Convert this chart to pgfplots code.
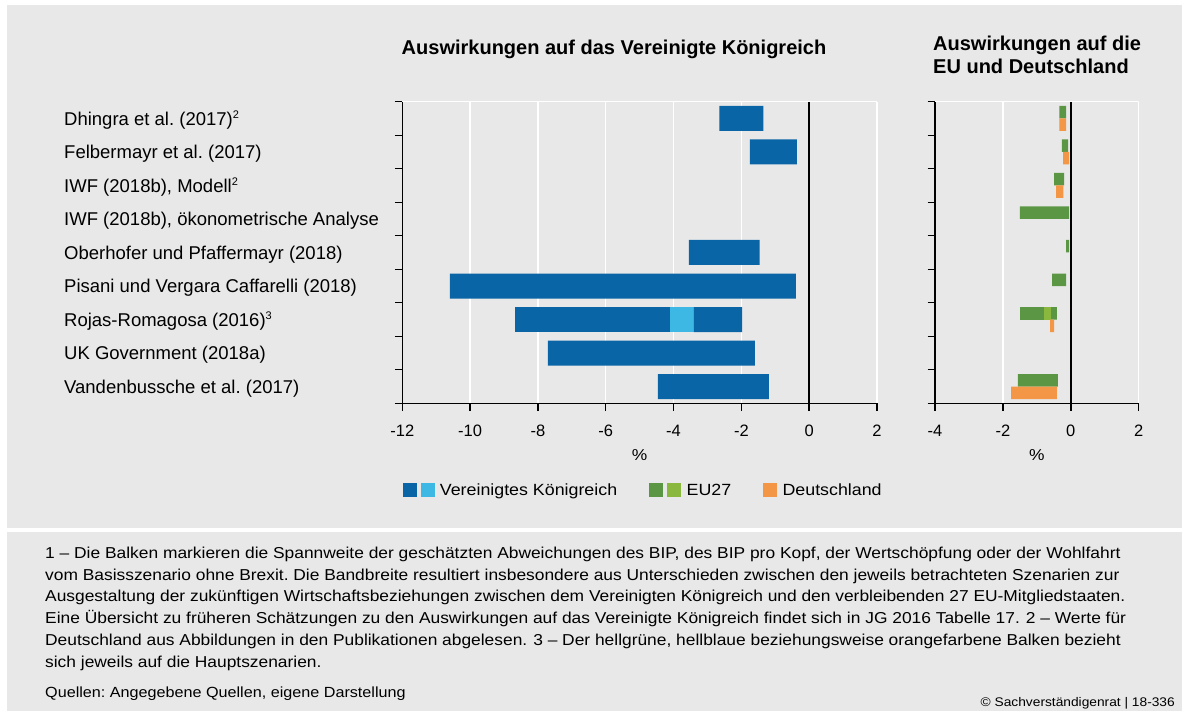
\documentclass[border=0pt]{standalone}
\usepackage{fontspec}
\setmainfont{Liberation Sans}
\newfontfamily\widefam[FakeStretch=1.1]{Liberation Sans}
\usepackage{pgfplots}
\usepackage{pgfplotstable}
\pgfplotsset{compat=1.18}

\definecolor{bgc}{RGB}{232,232,232}
\definecolor{ukdark}{RGB}{10,101,166}
\definecolor{uklight}{RGB}{61,183,228}
\definecolor{eudark}{RGB}{91,150,69}
\definecolor{eulight}{RGB}{138,184,62}
\definecolor{deor}{RGB}{243,150,69}

\newcommand\catfont{\fontsize{18.5}{21}\selectfont}
\newcommand\tickfont{\fontsize{16.5}{19}\selectfont}
\newcommand\footfont{\widefam\fontsize{15.8}{18}\selectfont}
\newcommand\titlefont{\bfseries\fontsize{20}{24}\selectfont}
\newcommand\supx[1]{\raisebox{6.6pt}{\fontsize{11}{11}\selectfont #1}}

% UK: range lo..hi, main scenario mlo..mhi (= lo where there is none)
\pgfplotstableread{
y lo hi mlo mhi
8 -2.65 -1.35 -2.65 -2.65
7 -1.75 -0.36 -1.75 -1.75
6 0 0 0 0
5 0 0 0 0
4 -3.55 -1.46 -3.55 -3.55
3 -10.60 -0.39 -10.60 -10.60
2 -8.68 -1.98 -4.11 -3.40
1 -7.71 -1.60 -7.71 -7.71
0 -4.46 -1.19 -4.46 -4.46
}\ukdata

\pgfplotstableread{
y lo hi mlo mhi
8 -0.34 -0.14 -0.34 -0.34
7 -0.26 -0.08 -0.26 -0.26
6 -0.49 -0.20 -0.49 -0.49
5 -1.50 -0.05 -1.50 -1.50
4 -0.14 -0.05 -0.14 -0.14
3 -0.55 -0.14 -0.55 -0.55
2 -1.50 -0.41 -0.79 -0.58
1 0 0 0 0
0 -1.56 -0.38 -1.56 -1.56
}\eudata

\pgfplotstableread{
y lo hi
8 -0.34 -0.14
7 -0.23 -0.05
6 -0.43 -0.22
5 0 0
4 0 0
3 0 0
2 -0.61 -0.49
1 0 0
0 -1.76 -0.41
}\dedata

\pgfplotsset{
  panel/.style={
    scale only axis, height=301.6pt,
    ymin=-0.5, ymax=8.5, enlargelimits=false,
    xbar stacked,
    axis x line*=bottom, axis y line*=left,
    axis line style={black, line width=1.4pt},
    tick align=outside, major tick length=7.5pt,
    tick style={black, line width=1.4pt},
    ytick={-0.5,0.5,...,8.5}, yticklabels={},
    xmajorgrids, grid style={white, line width=1.5pt},
    tick label style={font=\tickfont},
    /pgf/number format/assume math mode=true,
    xticklabel style={anchor=base, yshift=-26pt},
    xlabel={\%},
    xlabel style={at={(axis description cs:0.5,0)}, anchor=base, yshift=-57pt, font=\footfont},
  },
  seg/.style={draw=none, fill=#1},
}

\begin{document}
\frenchspacing
\begin{tikzpicture}[x=1pt,y=1pt]
\fill[white] (0,0) rectangle (1182,711);
\fill[bgc] (7,706) rectangle (1182,183);
\fill[bgc] (7,179) rectangle (1182,0);

% titles
\node[anchor=base, inner sep=0, font=\titlefont] at (614,656) {Auswirkungen auf das Vereinigte Königreich};
\node[anchor=base west, inner sep=0, font=\titlefont] at (933,660) {Auswirkungen auf die};
\node[anchor=base west, inner sep=0, font=\titlefont] at (933,637.7) {EU und Deutschland};

% left panel
\begin{axis}[panel, at={(402.3pt,307.7pt)}, anchor=south west, width=474.7pt,
  xmin=-12, xmax=2, xtick={-12,-10,...,2},
  extra y ticks={0,...,8},
  extra y tick labels={Vandenbussche et al. (2017), UK Government (2018a), Rojas-Romagosa (2016)\supx{3},
    Pisani und Vergara Caffarelli (2018), Oberhofer und Pfaffermayr (2018),
    {IWF (2018b), ökonometrische Analyse}, {IWF (2018b), Modell\supx{2}},
    Felbermayr et al. (2017), Dhingra et al. (2017)\supx{2}},
  extra y tick style={major tick length=0pt, tick style={draw=none},
    yticklabel style={anchor=base west, xshift=-338.3pt, yshift=-6.6pt, inner sep=0pt, font=\catfont}},
  legend style={at={(axis description cs:0,0)}, anchor=west, yshift=-86.7pt,
    draw=none, fill=none, inner sep=0pt, font=\widefam\fontsize{16.2}{19}\selectfont,
    legend columns=-1, /tikz/every even column/.append style={column sep=30pt}},
  legend cell align=left,
]
\addlegendimage{legend image code/.code={\fill[ukdark] (0pt,-6.5pt) rectangle (13pt,6.5pt); \fill[uklight] (18pt,-6.5pt) rectangle (31pt,6.5pt);}}
\addlegendimage{legend image code/.code={\fill[eudark] (0pt,-6.5pt) rectangle (13pt,6.5pt); \fill[eulight] (18pt,-6.5pt) rectangle (31pt,6.5pt);}}
\addlegendimage{legend image code/.code={\fill[deor] (0pt,-6.5pt) rectangle (13pt,6.5pt);}}
\draw[white, line width=1.5pt] (axis cs:-12,8.5) -- (axis cs:2,8.5);
\addplot[draw=none, fill=none, bar width=25pt, bar shift=0pt] table[x=hi, y=y] {\ukdata};
\addplot[seg=ukdark, bar width=25pt, bar shift=0pt] table[x expr=\thisrow{mhi}-\thisrow{hi}, y=y] {\ukdata};
\addplot[seg=uklight, bar width=25pt, bar shift=0pt] table[x expr=\thisrow{mlo}-\thisrow{mhi}, y=y] {\ukdata};
\addplot[seg=ukdark, bar width=25pt, bar shift=0pt] table[x expr=\thisrow{lo}-\thisrow{mlo}, y=y] {\ukdata};
\draw[black, line width=1.6pt] (axis cs:0,-0.5) -- (axis cs:0,8.5);
\legend{\hspace{4pt}\strut Vereinigtes Königreich, \hspace{4pt}\strut EU27\hspace{14pt}, \hspace{4pt}\strut Deutschland}
\end{axis}

% right panel: EU27
\begin{axis}[panel, at={(935pt,307.7pt)}, anchor=south west, width=203.7pt,
  xmin=-4, xmax=2, xtick={-4,-2,0,2}]
\draw[white, line width=1.5pt] (axis cs:-4,8.5) -- (axis cs:2,8.5);
\addplot[draw=none, fill=none, bar width=12.5pt, bar shift=6.25pt] table[x=hi, y=y] {\eudata};
\addplot[seg=eudark, bar width=12.5pt, bar shift=6.25pt] table[x expr=\thisrow{mhi}-\thisrow{hi}, y=y] {\eudata};
\addplot[seg=eulight, bar width=12.5pt, bar shift=6.25pt] table[x expr=\thisrow{mlo}-\thisrow{mhi}, y=y] {\eudata};
\addplot[seg=eudark, bar width=12.5pt, bar shift=6.25pt] table[x expr=\thisrow{lo}-\thisrow{mlo}, y=y] {\eudata};
\end{axis}

% right panel: Deutschland
\begin{axis}[scale only axis, at={(935pt,307.7pt)}, anchor=south west, width=203.7pt, height=301.6pt,
  xmin=-4, xmax=2, ymin=-0.5, ymax=8.5, enlargelimits=false, xbar stacked, hide axis]
\addplot[draw=none, fill=none, bar width=12.5pt, bar shift=-6.25pt] table[x=hi, y=y] {\dedata};
\addplot[seg=deor, bar width=12.5pt, bar shift=-6.25pt] table[x expr=\thisrow{lo}-\thisrow{hi}, y=y] {\dedata};
\draw[black, line width=1.6pt] (axis cs:0,-0.5) -- (axis cs:0,8.5);
\end{axis}

% notes
\begin{scope}[every node/.style={anchor=base west, inner sep=0, font=\footfont}]
\node at (45,152.7) {1 – Die Balken markieren die Spannweite der geschätzten Abweichungen des BIP, des BIP pro Kopf, der Wertschöpfung oder der Wohlfahrt};
\node at (45,130.9) {vom Basisszenario ohne Brexit. Die Bandbreite resultiert insbesondere aus Unterschieden zwischen den jeweils betrachteten Szenarien zur};
\node at (45,109.1) {Ausgestaltung der zukünftigen Wirtschaftsbeziehungen zwischen dem Vereinigten Königreich und den verbleibenden 27 EU-Mitgliedstaaten.};
\node at (45,87.3) {Eine Übersicht zu früheren Schätzungen zu den Auswirkungen auf das Vereinigte Königreich findet sich in JG 2016 Tabelle 17.\hspace{6pt}2 – Werte für};
\node at (45,65.5) {Deutschland aus Abbildungen in den Publikationen abgelesen.\hspace{6pt}3 – Der hellgrüne, hellblaue beziehungsweise orangefarbene Balken bezieht};
\node at (45,43.7) {sich jeweils auf die Hauptszenarien.};
\end{scope}
\node[anchor=base west, inner sep=0, font=\widefam\fontsize{14.7}{17}\selectfont] at (45,13) {Quellen: Angegebene Quellen, eigene Darstellung};
\node[anchor=base east, inner sep=0, font=\widefam\fontsize{12.5}{14}\selectfont] at (1175,4) {© Sachverständigenrat | 18-336};
\end{tikzpicture}
\end{document}
